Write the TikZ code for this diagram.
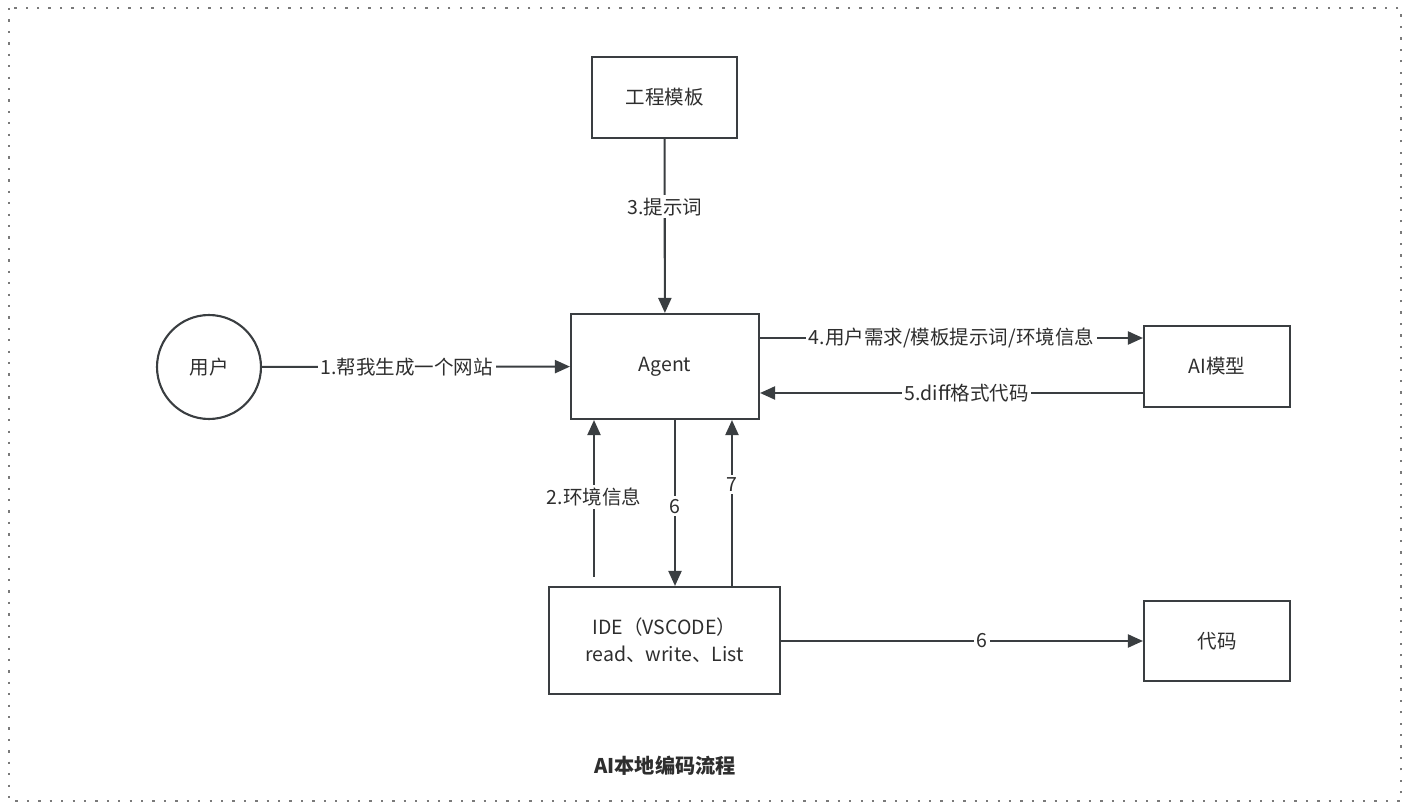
\documentclass[tikz,border=0pt]{standalone}
\usepackage{fontspec}
\setmainfont{Noto Sans CJK SC}
\usetikzlibrary{arrows.meta}
\definecolor{ink}{HTML}{2E2E2E}
\definecolor{edge}{HTML}{3A3E41}
\definecolor{frame}{HTML}{7A7A7A}
\begin{document}
\begin{tikzpicture}[x=0.02cm,y=-0.02cm,
  every node/.style={text=ink,font=\fontsize{11.1pt}{13pt}\selectfont},
  box/.style={draw=edge,line width=1.2pt,rectangle,fill=white,align=center},
  arr/.style={draw=edge,line width=1.2pt,-{Triangle[length=0.3cm,width=0.26cm]}},
  lbl/.style={fill=white,inner sep=1.5pt}]
  % canvas and dotted frame
  \useasboundingbox (0,0) rectangle (1411,811);
  \draw[frame,line width=1.3pt,dash pattern=on 1.3pt off 5.2pt] (9,8) rectangle (1401,801);

  % nodes
  \node[box,minimum width=2.9cm,minimum height=1.62cm] (tpl) at (664.5,97.5) {工程模板};
  \node[box,minimum width=3.76cm,minimum height=2.1cm] (agent) at (665,366.5) {Agent};
  \node[draw=edge,line width=1.2pt,circle,minimum size=2.08cm,inner sep=0pt] (user) at (209,367) {用户};
  \node[box,minimum width=2.92cm,minimum height=1.62cm] (ai) at (1217,366.5) {AI模型};
  \node[box,minimum width=4.62cm,minimum height=2.14cm,font=\fontsize{11.1pt}{15.3pt}\selectfont] (ide) at (664.5,640.5) {IDE（VSCODE）\\read、write、List};
  \node[box,minimum width=2.92cm,minimum height=1.6cm] (code) at (1217,641) {代码};
  \node[font=\fontsize{11.5pt}{13pt}\selectfont\bfseries] (title) at (665,766) {AI本地编码流程};

  % connectors
  \draw[arr] (tpl) -- node[lbl,pos=0.39] {3.提示词} (agent);
  \draw[arr] (user) -- node[lbl,pos=0.47] {1.帮我生成一个网站} (agent);
  \draw[arr] ([yshift=0.57cm]agent.east) -- node[lbl] {4.用户需求/模板提示词/环境信息} ([yshift=0.57cm]agent.east -| ai.west);
  \draw[arr] ([yshift=-0.53cm]ai.west) -- node[lbl,pos=0.46] {5.diff格式代码} ([yshift=-0.53cm]ai.west -| agent.east);
  \coordinate (envfoot) at ([xshift=-1.41cm,yshift=0.18cm]ide.north);
  \draw[arr] (envfoot) -- node[lbl,pos=0.51] {2.环境信息} (envfoot |- agent.south);
  \draw[arr] ([xshift=0.2cm]agent.south) -- node[lbl,pos=0.52] {6} ([xshift=0.2cm]agent.south |- ide.north);
  \draw[arr] ([xshift=1.34cm]agent.south |- ide.north) -- node[lbl,pos=0.61] {7} ([xshift=1.34cm]agent.south);
  \draw[arr] (ide.east |- code.west) -- node[lbl,pos=0.555] {6} (code.west);
\end{tikzpicture}
\end{document}
